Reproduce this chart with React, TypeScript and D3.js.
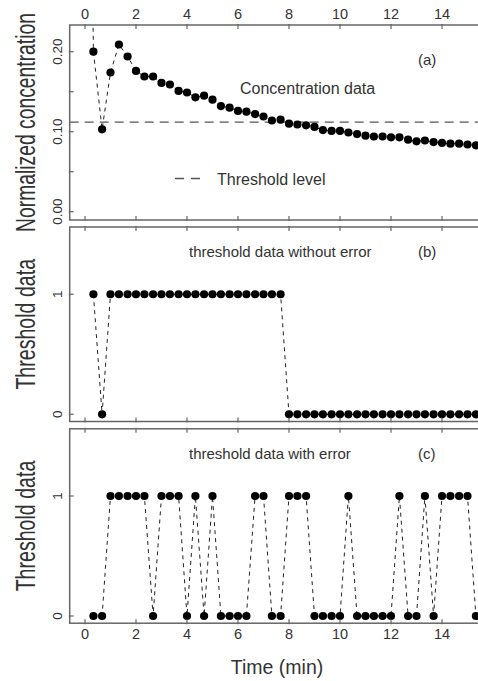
import React from 'react';
import * as d3 from 'd3';

// sampling times (min), one sample every 20 s
const times = [
    0.33, 0.67, 1.0, 1.33, 1.67, 2.0, 2.33, 2.67, 3.0, 3.33, 3.67, 4.0, 4.33, 4.67, 5.0, 5.33,
    5.67, 6.0, 6.33, 6.67, 7.0, 7.33, 7.67, 8.0, 8.33, 8.67, 9.0, 9.33, 9.67, 10.0, 10.33,
    10.67, 11.0, 11.33, 11.67, 12.0, 12.33, 12.67, 13.0, 13.33, 13.67, 14.0, 14.33, 14.67,
    15.0, 15.33,
];

// value at t = 0 sits far above the panel (clipped)
const startTime = 0;
const startConc = 1.0;

const concentration = [
    0.2, 0.103, 0.174, 0.209, 0.194, 0.176, 0.169, 0.169, 0.161, 0.159, 0.151, 0.149, 0.143,
    0.145, 0.14, 0.132, 0.13, 0.126, 0.125, 0.122, 0.119, 0.114, 0.115, 0.11, 0.109, 0.108,
    0.106, 0.102, 0.101, 0.101, 0.099, 0.097, 0.095, 0.094, 0.094, 0.093, 0.093, 0.09, 0.088,
    0.089, 0.087, 0.086, 0.085, 0.085, 0.084, 0.083,
];

const thresholdLevel = 0.112;

const thresholdNoError = [
    1, 0, 1, 1, 1, 1, 1, 1, 1, 1, 1, 1, 1, 1, 1, 1, 1, 1, 1, 1, 1, 1, 1, 0, 0, 0, 0, 0, 0, 0, 0,
    0, 0, 0, 0, 0, 0, 0, 0, 0, 0, 0, 0, 0, 0, 0,
];

const thresholdWithError = [
    0, 0, 1, 1, 1, 1, 1, 0, 1, 1, 1, 0, 1, 0, 1, 0, 0, 0, 0, 1, 1, 0, 0, 1, 1, 1, 0, 0, 0, 0, 1,
    0, 0, 0, 0, 0, 1, 0, 0, 1, 0, 1, 1, 1, 1, 0,
];

const xTicks = [0, 2, 4, 6, 8, 10, 12, 14];
const concTicks = [0, 0.05, 0.1, 0.15, 0.2];
const concLabels = [0, 0.1, 0.2];
const binTicks = [0, 1];

const FONT = 'Liberation Sans, Arial, Helvetica, sans-serif';
const FRAME = '#666';
const INK = '#222';

const x = d3.scaleLinear().domain([-0.6, 15.6]).range([69.7, 482.8]);

const panels = [
    {
        id: 'a',
        top: 25,
        bottom: 220,
        domain: [-0.0104, 0.2334],
        ticks: concTicks,
        labels: concLabels,
        fmt: d3.format('.2f'),
        title: 'Normalized concentration',
        titleScale: 0.69,
        xs: [startTime, ...times],
        ys: [startConc, ...concentration],
    },
    {
        id: 'b',
        top: 227,
        bottom: 421.5,
        domain: [-0.06, 1.56],
        ticks: binTicks,
        labels: binTicks,
        fmt: d3.format('d'),
        title: 'Threshold data',
        titleScale: 0.7,
        xs: times,
        ys: thresholdNoError,
        note: 'threshold data without error',
    },
    {
        id: 'c',
        top: 428.8,
        bottom: 623.2,
        domain: [-0.06, 1.56],
        ticks: binTicks,
        labels: binTicks,
        fmt: d3.format('d'),
        title: 'Threshold data',
        titleScale: 0.7,
        xs: times,
        ys: thresholdWithError,
        note: 'threshold data with error',
    },
];

function Panel({ p }) {
    const y = d3.scaleLinear().domain(p.domain).range([p.bottom, p.top]);
    const [x0, x1] = x.range();
    const pts = p.xs.map((t, i) => [t, p.ys[i]]);
    const line = d3
        .line()
        .x(d => x(d[0]))
        .y(d => y(d[1]));
    const mid = (p.top + p.bottom) / 2;
    const clip = `clip-${p.id}`;

    return (
        <g>
            <defs>
                <clipPath id={clip}>
                    <rect x={x0} y={p.top} width={x1 - x0} height={p.bottom - p.top} />
                </clipPath>
            </defs>

            <g clipPath={`url(#${clip})`}>
                {p.id === 'a' && (
                    <line
                        x1={x0}
                        x2={x1}
                        y1={y(thresholdLevel)}
                        y2={y(thresholdLevel)}
                        stroke="#555"
                        strokeWidth={1.3}
                        strokeDasharray="9,6"
                    />
                )}
                <path
                    d={line(pts)}
                    fill="none"
                    stroke={INK}
                    strokeWidth={1}
                    strokeDasharray="4,4"
                />
                {pts.map((d, i) => (
                    <circle key={i} cx={x(d[0])} cy={y(d[1])} r={4.1} fill="#000" />
                ))}
            </g>

            <rect
                x={x0}
                y={p.top}
                width={x1 - x0}
                height={p.bottom - p.top}
                fill="none"
                stroke={FRAME}
                strokeWidth={1.5}
            />

            {xTicks.map(t => (
                <g key={t} stroke={FRAME} strokeWidth={1.2}>
                    <line x1={x(t)} x2={x(t)} y1={p.top - 1} y2={p.top + 4} />
                    <line x1={x(t)} x2={x(t)} y1={p.bottom + 1} y2={p.bottom - 4} />
                </g>
            ))}

            {p.ticks.map(v => (
                <line
                    key={v}
                    x1={x0 - 1}
                    x2={x0 + 4}
                    y1={y(v)}
                    y2={y(v)}
                    stroke={FRAME}
                    strokeWidth={1.2}
                />
            ))}

            {p.labels.map(v => (
                <text
                    key={v}
                    transform={`translate(62,${y(v)}) rotate(-90)`}
                    textAnchor="middle"
                    fontSize={13.5}
                    fill="#333"
                >
                    {p.fmt(v)}
                </text>
            ))}

            <text
                transform={`translate(35,${mid}) rotate(-90) scale(${p.titleScale},1)`}
                textAnchor="middle"
                fontSize={28}
                fill="#333"
            >
                {p.title}
            </text>

            {p.note && (
                <text x={189} y={p.top + 30} fontSize={15} fill="#333">
                    {p.note}
                </text>
            )}
            <text x={418} y={p.top + (p.id === 'a' ? 40 : 30)} fontSize={15} fill="#333">
                ({p.id})
            </text>
        </g>
    );
}

export default function App() {
    const a = panels[0];
    const c = panels[2];

    return (
        <svg
            width={478}
            height={681}
            style={{ position: 'absolute', left: 0, top: 0, background: '#fff' }}
            fontFamily={FONT}
        >
            {panels.map(p => (
                <Panel key={p.id} p={p} />
            ))}

            {xTicks.map(t => (
                <text key={`t${t}`} x={x(t)} y={a.top - 6} textAnchor="middle" fontSize={14.5} fill="#333">
                    {t}
                </text>
            ))}
            {xTicks.map(t => (
                <text key={`b${t}`} x={x(t)} y={c.bottom + 15.5} textAnchor="middle" fontSize={14.5} fill="#333">
                    {t}
                </text>
            ))}

            <text x={240} y={93.5} fontSize={16} fill="#333">
                Concentration data
            </text>
            <line x1={175} x2={201} y1={178.5} y2={178.5} stroke="#555" strokeWidth={1.3} strokeDasharray="9,7" />
            <text x={217} y={184.5} fontSize={16} fill="#333">
                Threshold level
            </text>

            <text x={277} y={673.5} textAnchor="middle" fontSize={19.5} fill="#333">
                Time (min)
            </text>
        </svg>
    );
}
